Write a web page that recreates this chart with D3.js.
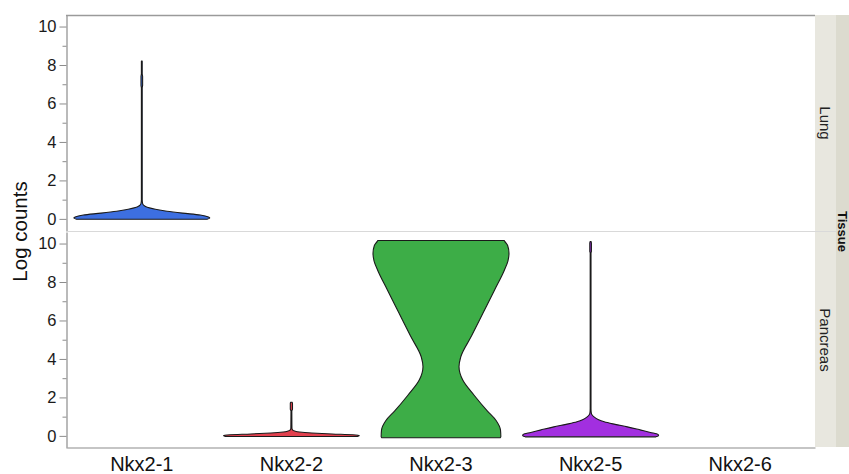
<!DOCTYPE html>
<html>
<head>
<meta charset="utf-8">
<script src="https://cdn.jsdelivr.net/npm/d3@7"></script>
<style>
  body { margin: 0; background: #fff; }
  svg { display: block; font-family: "Liberation Sans", Arial, sans-serif; }
  .axis path, .axis line { stroke: #8c8c8c; }
  .axis text { fill: #1a1a1a; font-size: 16.5px; }
</style>
</head>
<body>
<script>
// Chart values
var categories = ["Nkx2-1", "Nkx2-2", "Nkx2-3", "Nkx2-5", "Nkx2-6"];
var tissues = ["Lung", "Pancreas"];
var yTicks = [0, 2, 4, 6, 8, 10];
var yMinorTicks = [1, 3, 5, 7, 9];

// violin outlines: [log count, relative half width]
var lungNkx21 = [[-0.02, 0.96], [0.04, 1.0], [0.1, 0.98], [0.2, 0.86], [0.3, 0.6], [0.4, 0.37],
  [0.5, 0.2], [0.6, 0.08], [0.7, 0.03], [0.8, 0.012], [1.0, 0.006], [6.8, 0.006], [6.95, 0.012],
  [7.4, 0.012], [7.55, 0.006], [8.2, 0.006]];
var pancreasNkx22 = [[-0.03, 0.97], [0.02, 1.0], [0.06, 0.9], [0.1, 0.6], [0.15, 0.3], [0.2, 0.12],
  [0.25, 0.05], [0.3, 0.02], [0.4, 0.008], [1.3, 0.006], [1.38, 0.016], [1.7, 0.016], [1.75, 0.008]];
var pancreasNkx23 = [[-0.1, 0.87], [-0.05, 0.88], [0.3, 0.875], [0.8, 0.81], [1.3, 0.68], [2.1, 0.49],
  [2.9, 0.32], [3.6, 0.265], [4.1, 0.29], [5.2, 0.45], [6.4, 0.62], [7.6, 0.79], [8.6, 0.93],
  [9.1, 0.985], [9.5, 1.0], [9.9, 0.98], [10.1, 0.94], [10.16, 0.93]];
var pancreasNkx25 = [[-0.05, 0.96], [0.02, 1.0], [0.08, 0.99], [0.18, 0.88], [0.3, 0.74], [0.47, 0.54],
  [0.6, 0.36], [0.73, 0.2], [0.85, 0.11], [0.99, 0.05], [1.1, 0.02], [1.2, 0.01], [1.4, 0.006],
  [9.5, 0.006], [9.6, 0.012], [10.0, 0.012], [10.1, 0.008]];

var violins = [
  { tissue: "Lung", gene: "Nkx2-1", profile: lungNkx21 },
  { tissue: "Pancreas", gene: "Nkx2-2", profile: pancreasNkx22 },
  { tissue: "Pancreas", gene: "Nkx2-3", profile: pancreasNkx23 },
  { tissue: "Pancreas", gene: "Nkx2-5", profile: pancreasNkx25 }
];

var geneColors = {
  "Nkx2-1": "#3d6fe1",
  "Nkx2-2": "#e2404e",
  "Nkx2-3": "#3dad47",
  "Nkx2-5": "#a22fe0",
  "Nkx2-6": "#e0a030"
};

// SVG area
var svgWidth = 849;
var svgHeight = 474;

var plot = { left: 67, right: 815, top: 15, bottom: 448 };
var panelHeight = (plot.bottom - plot.top - 1) / 2;

var svg = d3.select("body")
  .append("svg")
  .attr("width", svgWidth)
  .attr("height", svgHeight);

var xBand = d3.scaleBand()
  .domain(categories)
  .range([plot.left, plot.right]);

// half width of a violin
var halfWidth = d3.scaleLinear()
  .domain([0, 1])
  .range([0, 68]);

// strip backgrounds
svg.append("rect")
  .attr("x", plot.right).attr("y", plot.top)
  .attr("width", 21).attr("height", plot.bottom - plot.top - 1)
  .attr("fill", "#e8e7df");
svg.append("rect")
  .attr("x", plot.right + 21).attr("y", plot.top)
  .attr("width", svgWidth - plot.right - 21).attr("height", plot.bottom - plot.top - 1)
  .attr("fill", "#dcdbcf");

tissues.forEach(function(tissue, i) {
  var top = plot.top + i * (panelHeight + 1);

  var yScale = d3.scaleLinear()
    .domain([-0.63, 10.6])
    .range([top + panelHeight, top]);

  var panel = svg.append("g");

  // violins for this tissue
  var area = d3.area()
    .curve(d3.curveMonotoneY)
    .y(d => yScale(d[0]));

  violins.filter(v => v.tissue === tissue).forEach(function(v) {
    var cx = xBand(v.gene) + xBand.bandwidth() / 2;
    area.x0(d => cx - halfWidth(d[1]))
      .x1(d => cx + halfWidth(d[1]));
    panel.append("path")
      .attr("d", area(v.profile))
      .attr("fill", geneColors[v.gene])
      .attr("stroke", "#1a1a1a")
      .attr("stroke-width", 1.1)
      .attr("stroke-linejoin", "round");
  });

  // minor ticks
  panel.append("g")
    .classed("axis", true)
    .attr("transform", `translate(${plot.left - 0.5}, 0)`)
    .call(d3.axisLeft(yScale).tickValues(yMinorTicks).tickSize(4).tickSizeOuter(0).tickFormat(""))
    .call(g => g.select(".domain").remove());

  // major ticks and axis line
  panel.append("g")
    .classed("axis", true)
    .attr("transform", `translate(${plot.left - 0.5}, 0)`)
    .call(d3.axisLeft(yScale).tickValues(yTicks).tickSize(7).tickSizeOuter(0).tickPadding(3))
    .call(g => g.select(".domain").attr("stroke-width", 1.2))
    .call(g => g.selectAll("text").attr("font-family", "Liberation Sans, Arial, sans-serif"));

  // strip label
  svg.append("text")
    .attr("transform", `translate(${plot.right + 5}, ${top + panelHeight / 2}) rotate(90)`)
    .attr("text-anchor", "middle")
    .attr("font-size", 15)
    .attr("fill", "#222")
    .text(tissue);
});

// panel separator
svg.append("line")
  .attr("x1", plot.left).attr("x2", plot.right + 21)
  .attr("y1", plot.top + panelHeight + 0.5).attr("y2", plot.top + panelHeight + 0.5)
  .attr("stroke", "#d9d9d9");

// top border and bottom axis line
svg.append("line")
  .attr("x1", plot.left - 1).attr("x2", plot.right)
  .attr("y1", plot.top + 0.5).attr("y2", plot.top + 0.5)
  .attr("stroke", "#9a9a9a").attr("stroke-width", 1.5);

var bottomAxis = d3.axisBottom(xBand).tickSize(0).tickSizeOuter(0).tickPadding(9);
svg.append("g")
  .attr("transform", `translate(0, ${plot.bottom - 0.5})`)
  .call(bottomAxis)
  .call(g => g.select(".domain").attr("stroke", "#8c8c8c").attr("stroke-width", 1.2))
  .call(g => g.selectAll("text")
    .attr("font-size", 20)
    .attr("fill", "#111")
    .attr("font-family", "Liberation Sans, Arial, sans-serif"));

// y axis title
svg.append("text")
  .attr("transform", `translate(27, ${(plot.top + plot.bottom) / 2}) rotate(-90)`)
  .attr("text-anchor", "middle")
  .attr("font-size", 20.5)
  .attr("fill", "#111")
  .text("Log counts");

// group title
svg.append("text")
  .attr("transform", `translate(${plot.right + 22.5}, ${(plot.top + plot.bottom) / 2}) rotate(90)`)
  .attr("text-anchor", "middle")
  .attr("font-size", 13)
  .attr("font-weight", "bold")
  .attr("fill", "#111")
  .text("Tissue");
</script>
</body>
</html>
